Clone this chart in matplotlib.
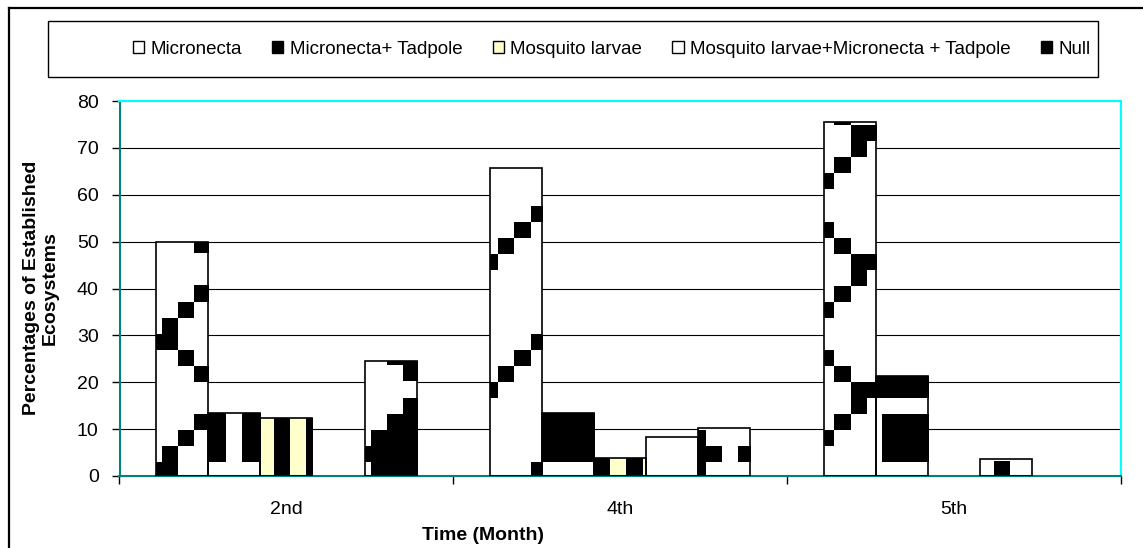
import numpy as np
import matplotlib
matplotlib.use("Agg")
import matplotlib.pyplot as plt
from matplotlib.patches import Rectangle
from matplotlib.lines import Line2D
from matplotlib.image import AxesImage
from matplotlib.transforms import IdentityTransform

plt.rcParams['font.family'] = ['Liberation Sans', 'DejaVu Sans']

# ---- data -------------------------------------------------------------
months = ['2nd', '4th', '5th']
series_names = ['Micronecta', 'Micronecta+ Tadpole', 'Mosquito larvae',
                'Mosquito larvae+Micronecta + Tadpole', 'Null']
micronecta = [50.0, 65.8, 75.6]
micronecta_tadpole = [13.5, 13.5, 21.3]
mosquito_larvae = [12.3, 3.8, 0.0]
mosquito_micronecta_tadpole = [0.0, 8.3, 3.7]
null = [24.6, 10.2, 0.0]
y_ticks = [0, 10, 20, 30, 40, 50, 60, 70, 80]

# ---- figure geometry (pixels) ----------------------------------------
W, H, DPI = 1143, 548, 100
fig = plt.figure(figsize=(W / DPI, H / DPI), dpi=DPI, facecolor='white')
ax_left, ax_right, ax_top, ax_bottom = 119.5, 1121.0, 101.0, 476.0
ax = fig.add_axes([ax_left / W, 1 - ax_bottom / H,
                   (ax_right - ax_left) / W, (ax_bottom - ax_top) / H])

# ---- 8x8 fill patterns, each cell drawn 16 px wide ----------------------
def bitmap(rows):
    return np.array([[c == '#' for c in r] for r in rows])

zigzag = bitmap([".....#..", "....#...", "...#....", "..#.....",
                 ".##.....", "#..#....", "....#..#", ".....##."])
brick = bitmap(["........", "######.#", "######.#", "######.#",
                "........", "##.#####", "##.#####", "##.#####"])
stripes = bitmap([".#.#.#.#"] * 8)
confetti = bitmap(["..#.....", "........", "........", "........",
                   "......#.", "........", "........", "........"])
diamond = bitmap([".#......", "###.....", "####...#", "#####.##",
                  "####...#", "###.....", ".#......", "........"])

yy, xx = np.mgrid[0:H, 0:W]
row_idx = ((yy - 14) // 16) % 8
col_idx = ((xx - 2) // 16) % 8


def texture(pat):
    mask = pat[row_idx, col_idx]
    img = np.zeros((H, W, 4), dtype=np.uint8)
    img[mask] = (0, 0, 0, 255)
    return img


series = [
    (micronecta, 'white', zigzag),
    (micronecta_tadpole, 'white', brick),
    (mosquito_larvae, '#FFFFCC', stripes),
    (mosquito_micronecta_tadpole, 'white', confetti),
    (null, 'white', diamond),
]

x = np.arange(len(months))
width = 0.156
for i, (vals, face, pat) in enumerate(series):
    pos = x + (i - 2) * width
    bars = ax.bar(pos, vals, width, color=face, edgecolor='none', zorder=2)
    tex = texture(pat)
    for b in bars:
        if b.get_height() <= 0:
            continue
        im = AxesImage(ax, interpolation='nearest', origin='upper',
                       extent=(0, W, 0, H))
        im.set_transform(IdentityTransform())
        im.set_data(tex)
        im.set_zorder(2.5)
        ax.add_artist(im)
        im.set_clip_path(b)
    edges = ax.bar(pos, vals, width, fill=False, edgecolor='black',
                   linewidth=1.2, zorder=3)
    for b in edges:
        if b.get_height() <= 0:
            b.set_visible(False)

# ---- axes styling -----------------------------------------------------
ax.set_xlim(-0.5, 2.5)
ax.set_ylim(0, 80)
ax.set_yticks(y_ticks)
ax.set_xticks(x)
ax.set_xticklabels(months)
ax.set_xticks([-0.5, 0.5, 1.5, 2.5], minor=True)
ax.tick_params(axis='y', length=6, width=1, color='black', pad=9,
               labelsize=14)
ax.tick_params(axis='x', which='major', length=0, pad=18, labelsize=14)
ax.tick_params(axis='x', which='minor', length=6, width=1, color='black')
ax.set_axisbelow(True)
ax.yaxis.grid(True, color='black', linewidth=0.8)

for side in ('left', 'bottom'):
    ax.spines[side].set_color('#008080')
    ax.spines[side].set_linewidth(1.5)
for side in ('top', 'right'):
    ax.spines[side].set_color('#00FFFF')
    ax.spines[side].set_linewidth(1.5)

# ---- titles -------------------------------------------------------------
fig.text(41 / W, 1 - 288 / H, 'Percentages of Established\nEcosystems',
         rotation=90, ha='center', va='center', fontsize=14,
         fontweight='bold', linespacing=1.1, multialignment='center')
fig.text(483 / W, 1 - 535 / H, 'Time (Month)', ha='center', va='center',
         fontsize=14, fontweight='bold')

# ---- legend -----------------------------------------------------------
legend_faces = ['white', 'black', '#FFFFCC', 'white', 'black']
handles = [Rectangle((0, 0), 1, 1, facecolor=f, edgecolor='black',
                     linewidth=1) for f in legend_faces]
fig.legend(handles, series_names, ncol=5, frameon=False, fontsize=13.5,
           loc='center right', bbox_to_anchor=(1100 / W, 1 - 49 / H),
           borderpad=0, handlelength=0.6, handleheight=0.6,
           handletextpad=0.35, columnspacing=1.6)
fig.add_artist(Rectangle((48 / W, 1 - 77 / H), (1098 - 48) / W, 56 / H,
                         transform=fig.transFigure, fill=False,
                         edgecolor='black', linewidth=1))

# ---- outer chart border (left and top edges) --------------------------
fig.add_artist(Line2D([8.5 / W, 8.5 / W], [0, 1 - 7.5 / H],
                      transform=fig.transFigure, color='black', linewidth=1.6))
fig.add_artist(Line2D([8.5 / W, 1], [1 - 7.5 / H, 1 - 7.5 / H],
                      transform=fig.transFigure, color='black', linewidth=1.6))

fig.savefig('out.png', dpi=DPI, facecolor='white')
